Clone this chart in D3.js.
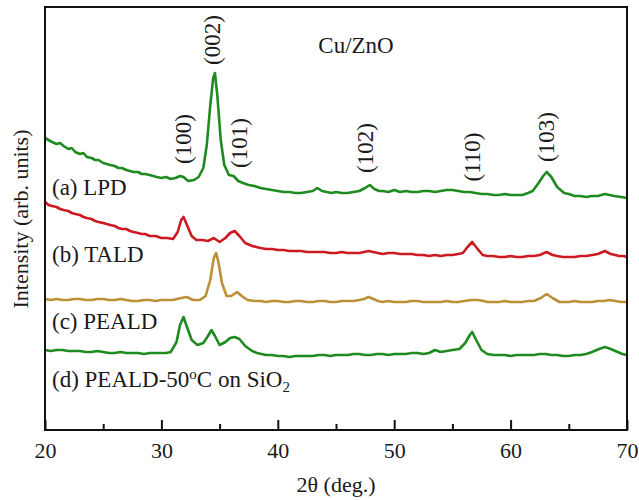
<!DOCTYPE html>
<html>
<head>
<meta charset="utf-8">
<script src="https://cdn.jsdelivr.net/npm/d3@7"></script>
<style>
  html, body { margin: 0; padding: 0; background: #fff; }
  svg { display: block; }
  text { font-family: "Liberation Serif", "Times New Roman", serif; fill: #1a1a1a; }
</style>
</head>
<body>
<svg id="chart" width="639" height="500"></svg>
<script>
// ---- Data (2θ in degrees, intensity in arbitrary units, curves offset as in the figure) ----
const seriesNames = ["(a) LPD", "(b) TALD", "(c) PEALD", "(d) PEALD-50°C on SiO₂"];
const seriesColors = ["#1f8a1f", "#cc1a22", "#bb9036", "#1f8a1f"];

const lpd = [
  [20,292],[20.3,290],[20.6,288],[21,286],[21.3,287],[21.6,284],[22,281],[22.3,282],[22.6,278],[23,276],
  [23.3,277],[23.6,273],[24,272],[24.3,270],[24.6,270],[25,267],[25.3,266],[25.6,265],[26,264],[26.3,262],
  [26.6,262],[27,260],[27.3,259],[27.6,258],[28,258],[28.3,256],[28.6,256],[29,255],[29.3,254],[29.6,253],
  [30,252],[30.4,253],[30.8,251],[31.2,252],[31.6,254],[31.9,253],[32.3,249],[32.8,250],[33.2,253],[33.6,262],
  [33.9,285],[34.2,325],[34.45,352],[34.6,357],[34.8,335],[35.1,290],[35.4,265],[35.8,255],[36.2,254],[36.6,249],
  [37,247],[37.5,245],[38,244],[38.5,242],[39,241],[39.5,240],[40,239],[40.5,238],[41,238],[41.5,237],
  [42,237],[42.5,238],[43,239],[43.4,242],[43.8,239],[44.2,238],[44.6,237],[45,238],[45.5,237],[46,237],
  [46.5,238],[47,239],[47.5,242],[47.9,245],[48.3,241],[48.7,239],[49,239],[49.5,238],[50,240],[50.5,238],
  [51,239],[51.5,238],[52,238],[52.5,239],[53,239],[53.5,238],[54,239],[54.5,240],[55,240],[55.5,239],
  [56,238],[56.5,238],[57,237],[57.5,236],[58,236],[58.5,235],[59,235],[59.5,236],[60,235],[60.5,235],
  [61,235],[61.5,237],[61.9,239],[62.4,247],[62.8,254],[63.1,258],[63.5,253],[64,243],[64.6,237],[65,236],
  [65.5,234],[66,234],[66.5,233],[67,234],[67.5,234],[68.1,236],[68.5,235],[68.9,234],[69.5,233],[70,232]
];
const tald = [
  [20,228],[20.3,225],[20.6,224],[21,223],[21.3,221],[21.6,220],[22,219],[22.3,217],[22.6,216],[23,215],
  [23.3,213],[23.6,212],[24,211],[24.3,209],[24.6,208],[25,207],[25.3,206],[25.6,205],[26,204],[26.3,202],
  [26.6,201],[27,201],[27.3,199],[27.6,198],[28,197],[28.3,196],[28.6,196],[29,194],[29.5,194],[30,192],
  [30.5,192],[31,191],[31.4,198],[31.7,210],[31.9,213],[32.2,205],[32.6,194],[33,190],[33.5,190],[34,189],
  [34.5,192],[35,188],[35.5,192],[35.9,197],[36.3,199],[36.7,194],[37.2,187],[37.8,184],[38.5,182],[39,181],
  [39.5,181],[40,180],[40.5,180],[41,179],[41.5,179],[42,179],[42.5,178],[43,178],[43.5,178],[44,178],
  [44.5,177],[45,177],[45.5,178],[46,177],[46.5,177],[47,177],[47.4,178],[47.8,179],[48.2,178],[48.6,177],
  [49,176],[49.5,177],[50,177],[50.5,176],[51,176],[51.5,176],[52,175],[52.5,175],[53,174],[53.5,175],
  [54,174],[54.5,175],[55,175],[55.5,176],[55.9,177],[56.3,183],[56.7,188],[57.1,182],[57.6,175],[58,174],
  [58.5,174],[59,173],[59.5,173],[60,174],[60.5,173],[61,173],[61.5,174],[62,174],[62.5,175],[63.1,178],
  [63.6,175],[64,174],[64.5,173],[65,173],[65.5,173],[66,174],[66.5,174],[67,175],[67.5,176],[68.1,179],
  [68.6,176],[69,175],[69.3,174],[69.7,174],[70,173]
];
const peald = [
  [20,131],[20.5,130],[21,131],[21.5,130],[22,130],[22.5,131],[23,131],[23.5,130],[24,130],[24.5,131],
  [25,131],[25.5,130],[26,130],[26.5,131],[27,130],[27.5,129],[28,129],[28.5,130],[29,130],[29.5,129],
  [30,130],[30.5,130],[31,130],[31.7,132],[32.2,133],[32.7,130],[33.3,130],[33.8,134],[34.2,150],[34.5,172],
  [34.7,177],[34.9,168],[35.2,147],[35.6,134],[36,134],[36.5,138],[36.9,134],[37.4,130],[38,129],[38.5,129],
  [39,128],[39.5,129],[40,129],[40.5,128],[41,128],[41.5,129],[42,129],[42.5,128],[43,128],[43.5,129],
  [44,129],[44.5,128],[45,128],[45.5,129],[46,129],[46.5,129],[47,130],[47.4,131],[47.8,133],[48.2,131],
  [48.6,129],[49,128],[49.5,129],[50,128],[50.5,128],[51,128],[51.5,129],[52,129],[52.5,128],[53,128],
  [53.5,128],[54,128],[54.5,129],[55,128],[55.5,128],[56,129],[56.6,130],[57.2,130],[57.7,129],[58,128],
  [58.5,128],[59,128],[59.5,129],[60,128],[60.5,128],[61,128],[61.5,129],[62,129],[62.6,132],[63.1,136],
  [63.6,132],[64.2,128],[64.6,128],[65,128],[65.5,129],[66,128],[66.5,128],[67,128],[67.5,129],[68,129],
  [68.5,130],[69,129],[69.5,128],[70,128]
];
const peald50 = [
  [20,80],[20.5,79],[21,80],[21.5,80],[22,79],[22.5,79],[23,79],[23.5,78],[24,78],[24.5,79],
  [25,78],[25.5,77],[26,77],[26.5,78],[27,77],[27.5,77],[28,77],[28.5,76],[29,77],[29.5,77],
  [30,77],[30.4,77],[30.8,78],[31.3,88],[31.6,105],[31.9,113],[32.2,103],[32.6,90],[33.1,85],[33.6,87],
  [34,94],[34.3,100],[34.6,94],[35,85],[35.5,88],[35.9,92],[36.3,93],[36.7,91],[37.2,84],[37.8,79],
  [38.2,77],[38.6,76],[39,75],[39.5,75],[40,74],[40.5,74],[41,73],[41.5,74],[42,74],[42.5,74],
  [43,74],[43.5,75],[44,75],[44.5,74],[45,75],[45.5,75],[46,75],[46.5,76],[47,76],[47.5,75],
  [48,75],[48.5,76],[49,76],[49.5,75],[50,76],[50.5,76],[51,76],[51.5,77],[52,77],[52.5,76],
  [53,77],[53.5,80],[54,78],[54.5,79],[55,80],[55.6,81],[56.1,87],[56.5,95],[56.7,98],[57,91],
  [57.5,80],[58,76],[58.5,75],[59,75],[59.5,75],[60,74],[60.5,75],[61,75],[61.5,75],[62,75],
  [62.5,76],[63,76],[63.5,75],[64,75],[64.5,74],[65,74],[65.5,75],[66,75],[66.5,76],[67,78],
  [67.6,81],[68.1,83],[68.6,81],[69.2,78],[69.6,76],[70,75]
];
const allSeries = [lpd, tald, peald, peald50];

const xTicks = [20, 30, 40, 50, 60, 70];
const xMinorTicks = [25, 35, 45, 55, 65];
const peakLabels = ["(100)", "(002)", "(101)", "(102)", "(110)", "(103)"];
const peakPositions = [31.86, 34.43, 36.75, 47.5, 56.7, 63.1];
const chartTitle = "Cu/ZnO";

// ---- Layout ----
const svg = d3.select("#chart");
const m = { left: 45, top: 7, right: 12, bottom: 70 };
const W = 639 - m.left - m.right;   // 582
const H = 500 - m.top - m.bottom;   // 423

const x = d3.scaleLinear().domain([20, 70]).range([0, W]);
const y = d3.scaleLinear().domain([0, 423]).range([H, 0]);

const g = svg.append("g").attr("transform", `translate(${m.left},${m.top})`);

// Curves
const line = d3.line().x(d => x(d[0])).y(d => y(d[1])).curve(d3.curveLinear);
allSeries.forEach((s, i) => {
  g.append("path").datum(s)
    .attr("fill", "none")
    .attr("stroke", seriesColors[i])
    .attr("stroke-width", 2.6)
    .attr("stroke-linejoin", "round")
    .attr("d", line);
});

// Frame
g.append("rect").attr("x", 0).attr("y", 0).attr("width", W).attr("height", H)
  .attr("fill", "none").attr("stroke", "#111").attr("stroke-width", 2);

// Bottom axis with inward ticks
const axisMajor = d3.axisBottom(x).tickValues(xTicks).tickSize(-10).tickPadding(12).tickFormat(d3.format("d"));
const ax = g.append("g").attr("transform", `translate(0,${H})`).call(axisMajor);
ax.select(".domain").remove();
ax.selectAll(".tick line").attr("stroke", "#111").attr("stroke-width", 2);
ax.selectAll(".tick text").attr("font-size", 22).attr("fill", "#1a1a1a");
const axMinor = g.append("g").attr("transform", `translate(0,${H})`)
  .call(d3.axisBottom(x).tickValues(xMinorTicks).tickSize(-6).tickFormat(""));
axMinor.select(".domain").remove();
axMinor.selectAll(".tick line").attr("stroke", "#111").attr("stroke-width", 2);

// Axis titles
svg.append("text").attr("x", 336).attr("y", 492).attr("text-anchor", "middle")
  .attr("font-size", 22).text("2θ (deg.)");
svg.append("text").attr("transform", "translate(28,219) rotate(-90)")
  .attr("text-anchor", "middle").attr("font-size", 22).text("Intensity (arb. units)");

// Chart title
svg.append("text").attr("x", 356).attr("y", 53).attr("text-anchor", "middle")
  .attr("font-size", 23).text(chartTitle);

// Series labels
const labelY = [195, 262, 329, 387];
seriesNames.forEach((nm, i) => {
  const t = svg.append("text").attr("x", 52).attr("y", labelY[i]).attr("font-size", 23);
  if (i === 3) {
    t.append("tspan").text("(d) PEALD-50");
    t.append("tspan").attr("font-size", 15).attr("dy", -8).text("o");
    t.append("tspan").attr("dy", 8).text("C on SiO");
    t.append("tspan").attr("font-size", 15).attr("dy", 5).text("2");
  } else {
    t.text(nm);
  }
});

// Peak labels (rotated)
const peakLabelY = [139, 40, 143, 148, 157, 137];
peakLabels.forEach((lab, i) => {
  const px = m.left + x(peakPositions[i]);
  svg.append("text")
    .attr("transform", `translate(${px},${peakLabelY[i]}) rotate(-90)`)
    .attr("text-anchor", "middle").attr("dominant-baseline", "central")
    .attr("font-size", 23).text(lab);
});
</script>
</body>
</html>
